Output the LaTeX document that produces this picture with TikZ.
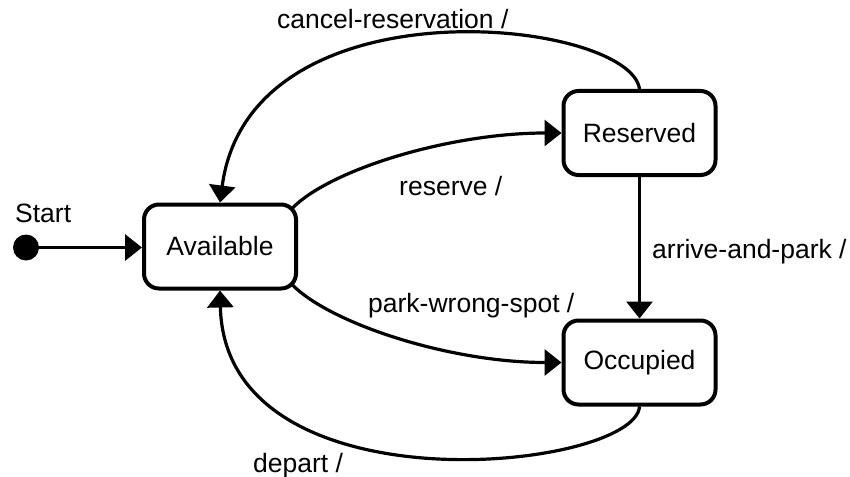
\documentclass[tikz,border=0pt]{standalone}
\usepackage{fontspec}
\setmainfont{Liberation Sans}
\usetikzlibrary{arrows.meta,calc}
\begin{document}
\begin{tikzpicture}[x=1pt,y=-1pt,
  state/.style={draw, line width=4pt, rounded corners=15pt, minimum width=152pt, minimum height=84pt, inner sep=0pt, font=\fontsize{26.5}{30}\selectfont},
  lbl/.style={anchor=base west, inner sep=0pt, font=\fontsize{26.5}{30}\selectfont},
  trans/.style={line width=3.2pt, -{Triangle[length=17pt,width=26pt]}},
]
\useasboundingbox (0,0) rectangle (850,476);
\node[state] (avail) at (220,246.5) {Available};
\node[state] (res) at (639.5,133) {Reserved};
\node[state] (occ) at (639.5,362.5) {Occupied};
\node[circle, fill, inner sep=0pt, minimum size=26pt] (start) at (26,247.5) {};
\coordinate (a1) at ($(avail.north east)+(-6,6)$);
\coordinate (a2) at ($(avail.south east)+(-6,-6)$);

\draw[trans] (start) -- (start -| avail.west);
\draw[trans] (res.north) .. controls +(-9.5,-70) and +(30,-226) .. (avail.north);
\draw[trans] (a1) .. controls +(38,-39) and +(-112,0) .. (res.west);
\draw[trans] (a2) .. controls +(38,39) and +(-112,0) .. (occ.west);
\draw[trans] (res.south) -- (occ.north);
\draw[trans] (occ.south) .. controls +(-4.5,64) and +(5,224) .. (avail.south);

\node[lbl] (lstart) at (15,222) {Start};
\node[lbl] (lcancel) at (277,29) {cancel-reservation /};
\node[lbl] (lreserve) at (399,195) {reserve /};
\node[lbl] (larrive) at (652,258) {arrive-and-park /};
\node[lbl] (lpark) at (368,312) {park-wrong-spot /};
\node[lbl] (ldepart) at (253,472) {depart /};
\end{tikzpicture}
\end{document}
